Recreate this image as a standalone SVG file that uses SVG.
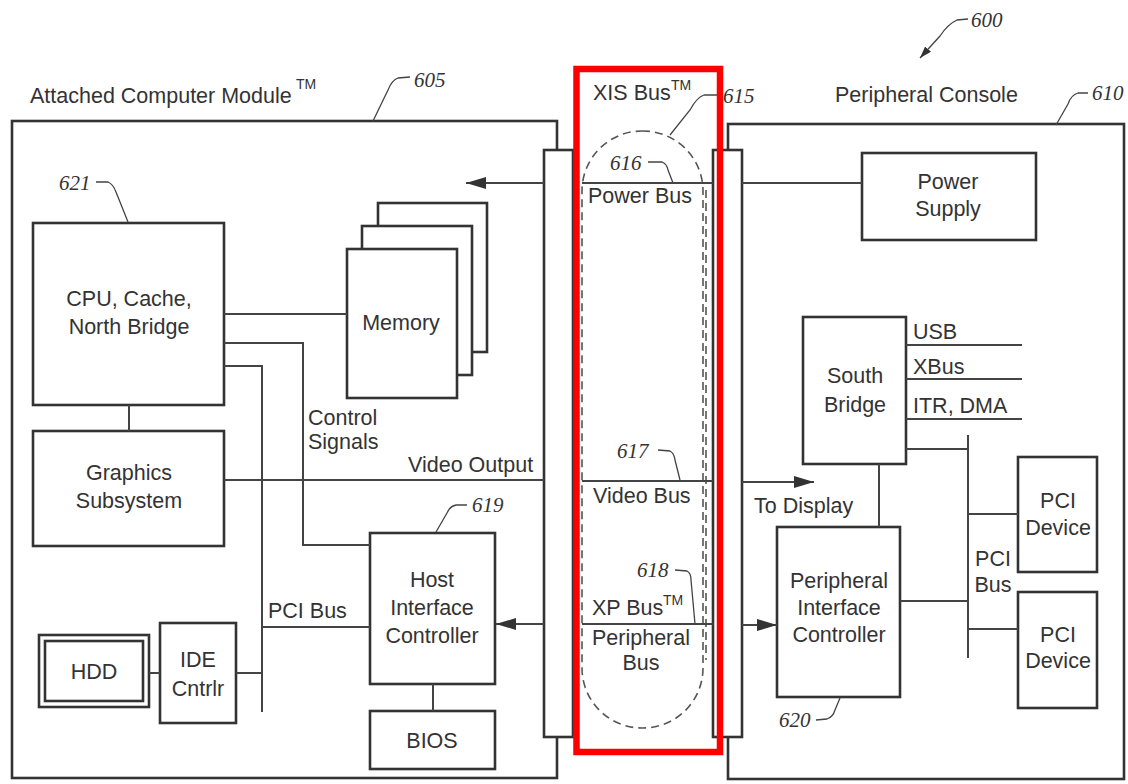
<svg xmlns="http://www.w3.org/2000/svg" width="1128" height="784" viewBox="0 0 1128 784">
<style>
.t{font-family:"Liberation Sans",Arial,Helvetica,sans-serif;font-size:21.5px;fill:#333}
.c{text-anchor:middle}
.tm{font-family:"Liberation Sans",Arial,sans-serif;font-size:14px;fill:#333}
.n{font-family:"Liberation Serif","Times New Roman",serif;font-style:italic;font-size:21px;fill:#333}
.box{fill:#fff;stroke:#333;stroke-width:2.6}
.ln{fill:none;stroke:#444;stroke-width:2}
.ld{fill:none;stroke:#444;stroke-width:1.3}
.dash{fill:none;stroke:#555;stroke-width:1.6;stroke-dasharray:8 5}
</style>
<defs>
<marker id="ah" viewBox="0 0 20 12" refX="20" refY="6" markerWidth="20" markerHeight="12" markerUnits="userSpaceOnUse" orient="auto">
<path d="M0,0 L20,6 L0,12 z" fill="#333"/>
</marker>
<marker id="ahs" viewBox="0 0 12 8" refX="12" refY="4" markerWidth="12" markerHeight="8" markerUnits="userSpaceOnUse" orient="auto">
<path d="M0,0 L12,4 L0,8 z" fill="#333"/>
</marker>
</defs>
<rect width="1128" height="784" fill="#fff"/>

<g id="ref600">
<text class="n" x="971" y="27">600</text>
<path class="ld" d="M968,19 L957,20 Q948,24 940,36 L920,58" marker-end="url(#ahs)"/>
</g>

<g id="acm">
<rect class="box" x="12" y="121" width="545" height="657"/>
<text class="t" x="30" y="103">Attached Computer Module</text>
<text class="tm" x="296" y="89">TM</text>
<text class="n" x="414" y="87">605</text>
<path class="ld" d="M410,77 L398,78 Q392,80 388,90 L373,121"/>
</g>

<g id="console">
<rect class="box" x="728" y="124" width="396" height="655"/>
<text class="t" x="835" y="102">Peripheral Console</text>
<text class="n" x="1092" y="100">610</text>
<path class="ld" d="M1088,93 L1078,93 Q1071,95 1068,104 L1056,125"/>
</g>

<g id="xis-bus">
<rect class="box" x="544" y="150" width="29" height="587"/>
<rect class="box" x="713" y="150" width="29" height="587"/>
<rect class="dash" x="582" y="131" width="121" height="597" rx="60" ry="60"/>
<path class="dash" d="M706,190 L706,660" stroke-width="1.2"/>
<text class="t" x="593" y="100">XIS Bus</text>
<text class="tm" x="671" y="90">TM</text>
<text class="n" x="723" y="103">615</text>
<path class="ld" d="M719,95 L704,95 Q697,97 690,110 L670,135"/>
</g>

<g id="power-bus">
<text class="n" x="610" y="170">616</text>
<path class="ld" d="M648,162 L662,162 Q667,164 668,170 L673,183"/>
<text class="t" x="588" y="203">Power Bus</text>
</g>
<g id="video-bus">
<text class="n" x="617" y="458">617</text>
<path class="ld" d="M658,450 L670,451 Q674,453 675,460 L680,480"/>
<text class="t" x="593" y="503">Video Bus</text>
</g>
<g id="xp-bus">
<text class="n" x="637" y="577">618</text>
<path class="ld" d="M675,570 L687,571 Q691,573 691,580 L695,624"/>
<text class="t" x="592" y="615">XP Bus</text>
<text class="tm" x="663" y="605">TM</text>
<text class="t c" x="641" y="645">Peripheral</text>
<text class="t c" x="641" y="670">Bus</text>
</g>

<g id="cpu">
<rect class="box" x="33" y="223" width="191" height="182"/>
<text class="t c" x="129" y="306">CPU, Cache,</text>
<text class="t c" x="129" y="334">North Bridge</text>
<text class="n" x="59" y="190">621</text>
<path class="ld" d="M96,182 L108,182 Q113,184 116,192 L128,222"/>
</g>

<g id="memory">
<rect class="box" x="378" y="203" width="109" height="149"/>
<rect class="box" x="362" y="226" width="110" height="149"/>
<rect class="box" x="347" y="249" width="110" height="149"/>
<text class="t c" x="401" y="330">Memory</text>
</g>

<g id="graphics">
<rect class="box" x="33" y="431" width="191" height="115"/>
<text class="t c" x="129" y="480">Graphics</text>
<text class="t c" x="129" y="508">Subsystem</text>
</g>

<g id="hic">
<rect class="box" x="370" y="533" width="125" height="151"/>
<text class="t c" x="432" y="587">Host</text>
<text class="t c" x="432" y="615">Interface</text>
<text class="t c" x="432" y="643">Controller</text>
<text class="n" x="472" y="512">619</text>
<path class="ld" d="M467,505 L456,505 Q450,506 447,513 L436,532"/>
</g>

<g id="bios">
<rect class="box" x="370" y="711" width="125" height="58"/>
<text class="t c" x="432" y="748">BIOS</text>
</g>

<g id="hdd">
<rect class="box" x="39" y="635" width="110" height="72" stroke-width="3"/>
<rect class="box" x="45" y="641" width="98" height="60" stroke-width="2"/>
<text class="t c" x="94" y="679">HDD</text>
</g>

<g id="ide">
<rect class="box" x="160" y="623" width="76" height="100"/>
<text class="t c" x="198" y="667">IDE</text>
<text class="t c" x="198" y="696">Cntrlr</text>
</g>

<g id="power-supply">
<rect class="box" x="862" y="153" width="174" height="87"/>
<text class="t c" x="948" y="189">Power</text>
<text class="t c" x="948" y="216">Supply</text>
</g>

<g id="south-bridge">
<rect class="box" x="803" y="317" width="103" height="147"/>
<text class="t c" x="855" y="383">South</text>
<text class="t c" x="855" y="412">Bridge</text>
</g>

<g id="pic">
<rect class="box" x="777" y="527" width="123" height="170"/>
<text class="t c" x="839" y="588">Peripheral</text>
<text class="t c" x="839" y="615">Interface</text>
<text class="t c" x="839" y="642">Controller</text>
<text class="n" x="779" y="727">620</text>
<path class="ld" d="M816,720 L827,719 Q833,717 835,710 L840,698"/>
</g>

<g id="pci-device-1">
<rect class="box" x="1018" y="457" width="79" height="115"/>
<text class="t c" x="1058" y="508">PCI</text>
<text class="t c" x="1058" y="535">Device</text>
</g>

<g id="pci-device-2">
<rect class="box" x="1018" y="592" width="79" height="116"/>
<text class="t c" x="1058" y="642">PCI</text>
<text class="t c" x="1058" y="668">Device</text>
</g>

<g id="connectors">
<!-- power -->
<line class="ln" x1="544" y1="183" x2="466" y2="183" marker-end="url(#ah)"/>
<line class="ln" x1="582" y1="183" x2="713" y2="183"/>
<line class="ln" x1="742" y1="183" x2="862" y2="183"/>
<!-- cpu links -->
<line class="ln" x1="224" y1="314" x2="347" y2="314"/>
<polyline class="ln" points="224,343 303,343 303,545 370,545"/>
<polyline class="ln" points="224,366 262,366 262,712"/>
<line class="ln" x1="129" y1="405" x2="129" y2="431"/>
<text class="t" x="308" y="425">Control</text>
<text class="t" x="308" y="449">Signals</text>
<!-- video -->
<line class="ln" x1="224" y1="480" x2="544" y2="480"/>
<text class="t" x="408" y="472">Video Output</text>
<line class="ln" x1="582" y1="481" x2="713" y2="481"/>
<line class="ln" x1="742" y1="482" x2="814" y2="482" marker-end="url(#ah)"/>
<text class="t" x="754" y="513">To Display</text>
<!-- pci bus left -->
<line class="ln" x1="262" y1="627" x2="370" y2="627"/>
<text class="t" x="268" y="618">PCI Bus</text>
<line class="ln" x1="236" y1="673" x2="262" y2="673"/>
<line class="ln" x1="149" y1="673" x2="160" y2="673"/>
<line class="ln" x1="433" y1="684" x2="433" y2="711"/>
<!-- xp bus -->
<line class="ln" x1="544" y1="624" x2="496" y2="624" marker-end="url(#ah)"/>
<line class="ln" x1="582" y1="624" x2="713" y2="624"/>
<line class="ln" x1="742" y1="625" x2="777" y2="625" marker-end="url(#ah)"/>
<!-- south bridge -->
<line class="ln" x1="906" y1="345" x2="1022" y2="345"/>
<line class="ln" x1="906" y1="379" x2="1022" y2="379"/>
<line class="ln" x1="906" y1="419" x2="1022" y2="419"/>
<text class="t" x="913" y="339">USB</text>
<text class="t" x="913" y="374">XBus</text>
<text class="t" x="913" y="413">ITR, DMA</text>
<line class="ln" x1="879" y1="464" x2="879" y2="527"/>
<line class="ln" x1="906" y1="449" x2="968" y2="449"/>
<line class="ln" x1="968" y1="435" x2="968" y2="658"/>
<line class="ln" x1="900" y1="601" x2="968" y2="601"/>
<line class="ln" x1="968" y1="514" x2="1018" y2="514"/>
<line class="ln" x1="968" y1="629" x2="1018" y2="629"/>
<text class="t c" x="993" y="566">PCI</text>
<text class="t c" x="993" y="592">Bus</text>
</g>

<g id="highlight">
<rect x="576.5" y="69" width="143.5" height="683" fill="none" stroke="#f00" stroke-width="6.5"/>
</g>
</svg>
